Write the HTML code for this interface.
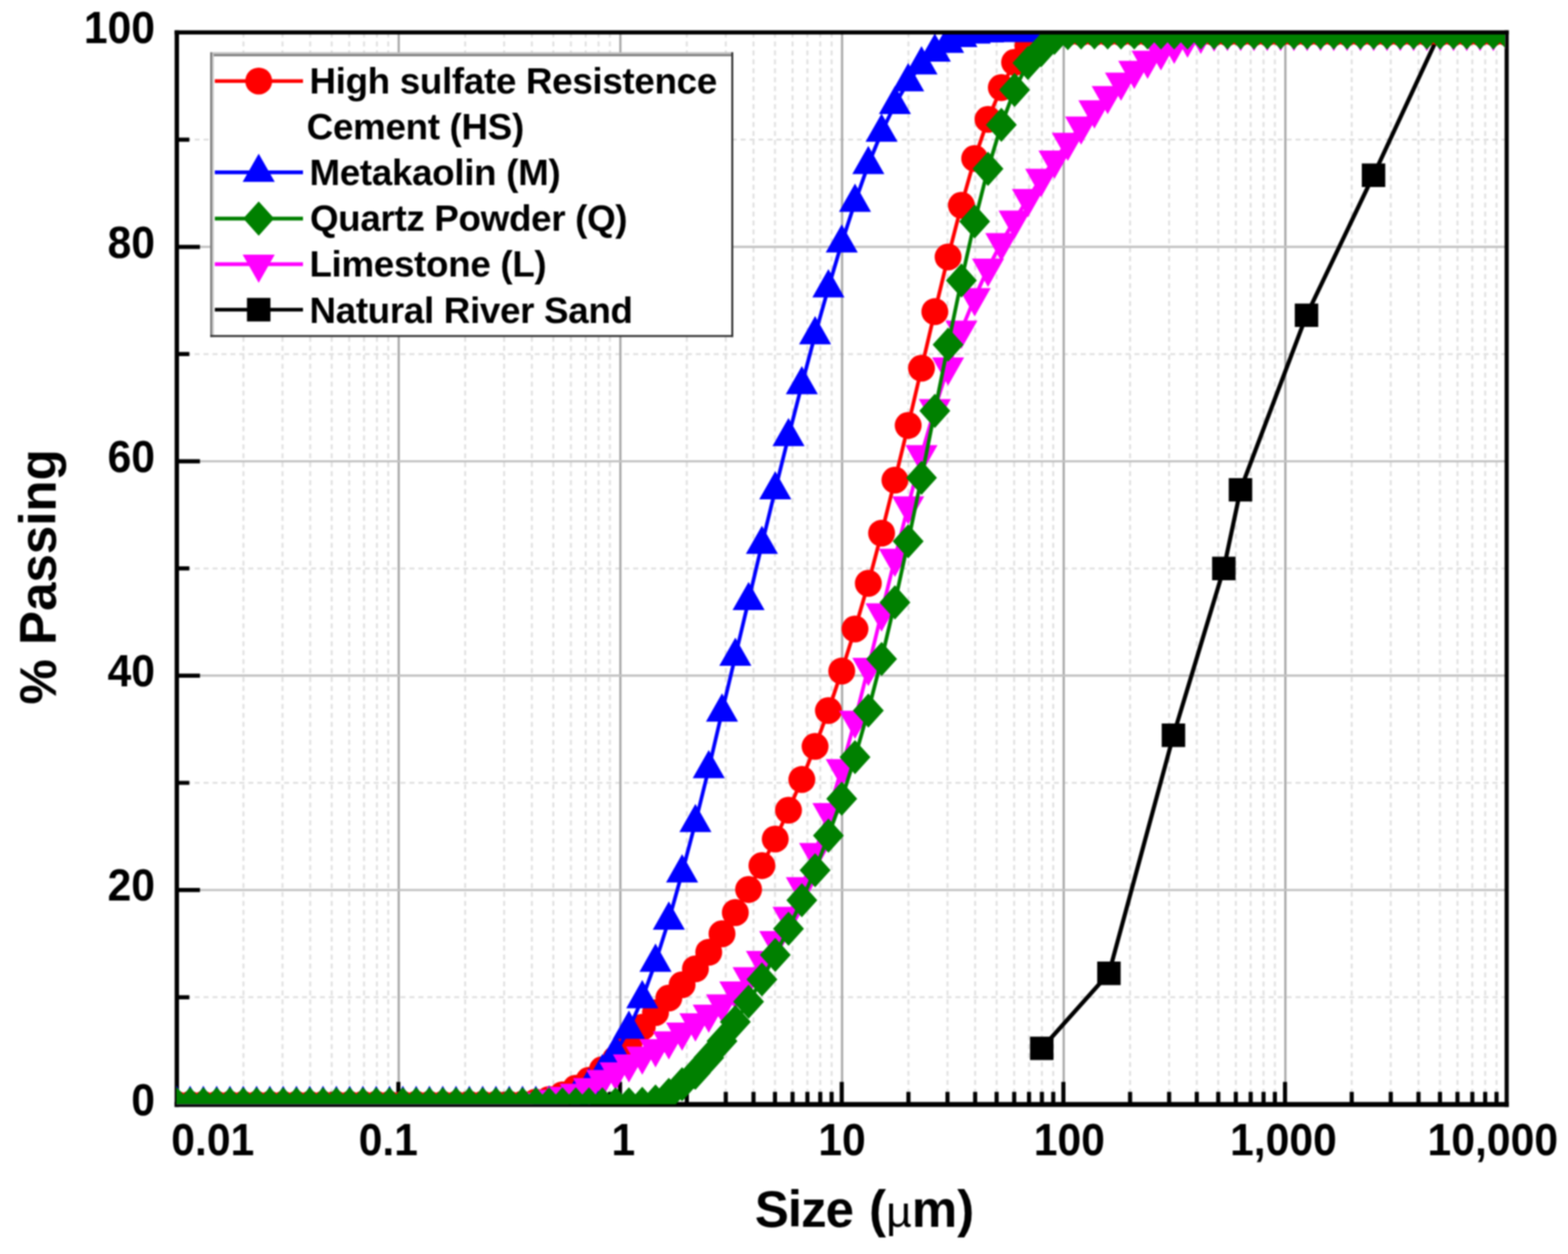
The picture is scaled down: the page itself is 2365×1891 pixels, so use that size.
<!DOCTYPE html>
<html lang="en">
<head>
<meta charset="utf-8">
<title>Particle size distribution</title>
<style>
html,body{margin:0;padding:0;background:#fff;}
body{width:2365px;height:1891px;overflow:hidden;}
svg{display:block;filter:blur(0.9px);}
</style>
</head>
<body>
<svg width="2365" height="1891" viewBox="0 0 2365 1891">
<defs><clipPath id="pc"><rect x="266" y="52" width="2004.5" height="1613.3"/></clipPath></defs>
<rect width="2365" height="1891" fill="#fff"/>
<path d="M367.2 49V1665.4M426.1 49V1665.4M467.9 49V1665.4M500.3 49V1665.4M526.7 49V1665.4M549.1 49V1665.4M568.5 49V1665.4M585.6 49V1665.4M701.6 49V1665.4M760.4 49V1665.4M802.2 49V1665.4M834.6 49V1665.4M861.1 49V1665.4M883.4 49V1665.4M902.8 49V1665.4M919.9 49V1665.4M1035.9 49V1665.4M1094.7 49V1665.4M1136.5 49V1665.4M1168.9 49V1665.4M1195.4 49V1665.4M1217.8 49V1665.4M1237.2 49V1665.4M1254.3 49V1665.4M1370.2 49V1665.4M1429.1 49V1665.4M1470.8 49V1665.4M1503.2 49V1665.4M1529.7 49V1665.4M1552.1 49V1665.4M1571.5 49V1665.4M1588.6 49V1665.4M1704.5 49V1665.4M1763.4 49V1665.4M1805.1 49V1665.4M1837.5 49V1665.4M1864 49V1665.4M1886.4 49V1665.4M1905.8 49V1665.4M1922.9 49V1665.4M2038.8 49V1665.4M2097.7 49V1665.4M2139.5 49V1665.4M2171.9 49V1665.4M2198.3 49V1665.4M2220.7 49V1665.4M2240.1 49V1665.4M2257.2 49V1665.4M266.6 1503.8H2272.5M266.6 1180.5H2272.5M266.6 857.2H2272.5M266.6 533.9H2272.5M266.6 210.6H2272.5" stroke="#e1e1e1" stroke-width="3" stroke-dasharray="7.5 6" fill="none"/>
<path d="M601.4 49V1665.4M935.7 49V1665.4M1270.1 49V1665.4M1604.4 49V1665.4M1938.7 49V1665.4" stroke="#a9a9a9" stroke-width="3.4" fill="none"/>
<path d="M266.6 1342.1H2272.5M266.6 1018.8H2272.5M266.6 695.6H2272.5M266.6 372.3H2272.5" stroke="#c2c2c2" stroke-width="3.4" fill="none"/>
<path d="M367.2 1665.4v-19M426.1 1665.4v-19M467.9 1665.4v-19M500.3 1665.4v-19M526.7 1665.4v-19M549.1 1665.4v-19M568.5 1665.4v-19M585.6 1665.4v-19M600.9 1665.4v-34M701.6 1665.4v-19M760.4 1665.4v-19M802.2 1665.4v-19M834.6 1665.4v-19M861.1 1665.4v-19M883.4 1665.4v-19M902.8 1665.4v-19M919.9 1665.4v-19M935.2 1665.4v-34M1035.9 1665.4v-19M1094.7 1665.4v-19M1136.5 1665.4v-19M1168.9 1665.4v-19M1195.4 1665.4v-19M1217.8 1665.4v-19M1237.2 1665.4v-19M1254.3 1665.4v-19M1269.6 1665.4v-34M1370.2 1665.4v-19M1429.1 1665.4v-19M1470.8 1665.4v-19M1503.2 1665.4v-19M1529.7 1665.4v-19M1552.1 1665.4v-19M1571.5 1665.4v-19M1588.6 1665.4v-19M1603.9 1665.4v-34M1704.5 1665.4v-19M1763.4 1665.4v-19M1805.1 1665.4v-19M1837.5 1665.4v-19M1864 1665.4v-19M1886.4 1665.4v-19M1905.8 1665.4v-19M1922.9 1665.4v-19M1938.2 1665.4v-34M2038.8 1665.4v-19M2097.7 1665.4v-19M2139.5 1665.4v-19M2171.9 1665.4v-19M2198.3 1665.4v-19M2220.7 1665.4v-19M2240.1 1665.4v-19M2257.2 1665.4v-19M266.6 1503.8h19M266.6 1342.1h35M266.6 1180.5h19M266.6 1018.8h35M266.6 857.2h19M266.6 695.6h35M266.6 533.9h19M266.6 372.3h35M266.6 210.6h19" stroke="#000" stroke-width="6.2" fill="none"/>
<path d="M263.4 48.9H2275.6" stroke="#000" stroke-width="6.2" fill="none"/><path d="M263.4 1665.5H2275.6" stroke="#000" stroke-width="7.6" fill="none"/><path d="M266.7 45.8V1669.3" stroke="#000" stroke-width="6.6" fill="none"/><path d="M2272.5 45.8V1669.3" stroke="#000" stroke-width="6.2" fill="none"/>
<g clip-path="url(#pc)">
<path d="M1571.3 1580.9 L1672.6 1467.7 L1769.9 1108.8 L1845.9 857.2 L1871 738.6 L1970.6 475.4 L2071.7 264.2 L2171.8 49" fill="none" stroke="#000000" stroke-width="6.3" stroke-linejoin="round"/>
<path d="M1553.6 1563.2h35.4v35.4h-35.4zM1654.9 1450h35.4v35.4h-35.4zM1752.2 1091.1h35.4v35.4h-35.4zM1828.2 839.5h35.4v35.4h-35.4zM1853.3 720.9h35.4v35.4h-35.4zM1952.9 457.7h35.4v35.4h-35.4zM2054 246.5h35.4v35.4h-35.4z" fill="#000000"/>
<path d="M266.6 1665.4 L286.7 1665.4 L306.7 1665.4 L326.8 1665.4 L346.8 1665.4 L366.9 1665.4 L387 1665.4 L407 1665.4 L427.1 1665.4 L447.1 1665.4 L467.2 1665.4 L487.2 1665.4 L507.3 1665.4 L527.4 1665.4 L547.4 1665.4 L567.5 1665.4 L587.5 1665.4 L607.6 1665.4 L627.7 1665.4 L647.7 1665.4 L667.8 1665.4 L687.8 1665.4 L707.9 1665.4 L728 1665.4 L748 1665.4 L768.1 1665.4 L788.1 1665 L808.2 1662 L828.3 1658 L848.3 1651 L868.4 1641 L888.4 1629 L908.5 1613 L928.5 1597 L948.6 1573 L968.7 1549 L988.7 1527 L1008.8 1505 L1028.8 1485 L1048.9 1461 L1069 1436 L1089 1408.1 L1109.1 1376.1 L1129.1 1341.3 L1149.2 1305.3 L1169.3 1265.2 L1189.3 1221.8 L1209.4 1175.4 L1229.4 1125.5 L1249.5 1071.5 L1269.6 1011.9 L1289.6 948.5 L1309.7 879.6 L1329.7 804 L1349.8 724 L1369.8 641.6 L1389.9 555.3 L1410 469.9 L1430 387.5 L1450.1 309.6 L1470.1 239 L1490.2 180 L1510.3 132.1 L1530.3 94 L1550.4 69.4 L1570.4 56 L1590.5 50.5 L1610.6 49 L1630.6 49 L1650.7 49 L1670.7 49 L1690.8 49 L1710.8 49 L1730.9 49 L1751 49 L1771 49 L1791.1 49 L1811.1 49 L1831.2 49 L1851.3 49 L1871.3 49 L1891.4 49 L1911.4 49 L1931.5 49 L1951.6 49 L1971.6 49 L1991.7 49 L2011.7 49 L2031.8 49 L2051.9 49 L2071.9 49 L2092 49 L2112 49 L2132.1 49 L2152.1 49 L2172.2 49 L2192.3 49 L2212.3 49 L2232.4 49 L2252.4 49 L2272.5 49" fill="none" stroke="#ff0000" stroke-width="5.6" stroke-linejoin="round"/>
<path d="M266.6 1665.4m-20.3 0a20.3 20.3 0 1 0 40.6 0a20.3 20.3 0 1 0-40.6 0zM286.7 1665.4m-20.3 0a20.3 20.3 0 1 0 40.6 0a20.3 20.3 0 1 0-40.6 0zM306.7 1665.4m-20.3 0a20.3 20.3 0 1 0 40.6 0a20.3 20.3 0 1 0-40.6 0zM326.8 1665.4m-20.3 0a20.3 20.3 0 1 0 40.6 0a20.3 20.3 0 1 0-40.6 0zM346.8 1665.4m-20.3 0a20.3 20.3 0 1 0 40.6 0a20.3 20.3 0 1 0-40.6 0zM366.9 1665.4m-20.3 0a20.3 20.3 0 1 0 40.6 0a20.3 20.3 0 1 0-40.6 0zM387 1665.4m-20.3 0a20.3 20.3 0 1 0 40.6 0a20.3 20.3 0 1 0-40.6 0zM407 1665.4m-20.3 0a20.3 20.3 0 1 0 40.6 0a20.3 20.3 0 1 0-40.6 0zM427.1 1665.4m-20.3 0a20.3 20.3 0 1 0 40.6 0a20.3 20.3 0 1 0-40.6 0zM447.1 1665.4m-20.3 0a20.3 20.3 0 1 0 40.6 0a20.3 20.3 0 1 0-40.6 0zM467.2 1665.4m-20.3 0a20.3 20.3 0 1 0 40.6 0a20.3 20.3 0 1 0-40.6 0zM487.2 1665.4m-20.3 0a20.3 20.3 0 1 0 40.6 0a20.3 20.3 0 1 0-40.6 0zM507.3 1665.4m-20.3 0a20.3 20.3 0 1 0 40.6 0a20.3 20.3 0 1 0-40.6 0zM527.4 1665.4m-20.3 0a20.3 20.3 0 1 0 40.6 0a20.3 20.3 0 1 0-40.6 0zM547.4 1665.4m-20.3 0a20.3 20.3 0 1 0 40.6 0a20.3 20.3 0 1 0-40.6 0zM567.5 1665.4m-20.3 0a20.3 20.3 0 1 0 40.6 0a20.3 20.3 0 1 0-40.6 0zM587.5 1665.4m-20.3 0a20.3 20.3 0 1 0 40.6 0a20.3 20.3 0 1 0-40.6 0zM607.6 1665.4m-20.3 0a20.3 20.3 0 1 0 40.6 0a20.3 20.3 0 1 0-40.6 0zM627.7 1665.4m-20.3 0a20.3 20.3 0 1 0 40.6 0a20.3 20.3 0 1 0-40.6 0zM647.7 1665.4m-20.3 0a20.3 20.3 0 1 0 40.6 0a20.3 20.3 0 1 0-40.6 0zM667.8 1665.4m-20.3 0a20.3 20.3 0 1 0 40.6 0a20.3 20.3 0 1 0-40.6 0zM687.8 1665.4m-20.3 0a20.3 20.3 0 1 0 40.6 0a20.3 20.3 0 1 0-40.6 0zM707.9 1665.4m-20.3 0a20.3 20.3 0 1 0 40.6 0a20.3 20.3 0 1 0-40.6 0zM728 1665.4m-20.3 0a20.3 20.3 0 1 0 40.6 0a20.3 20.3 0 1 0-40.6 0zM748 1665.4m-20.3 0a20.3 20.3 0 1 0 40.6 0a20.3 20.3 0 1 0-40.6 0zM768.1 1665.4m-20.3 0a20.3 20.3 0 1 0 40.6 0a20.3 20.3 0 1 0-40.6 0zM788.1 1665m-20.3 0a20.3 20.3 0 1 0 40.6 0a20.3 20.3 0 1 0-40.6 0zM808.2 1662m-20.3 0a20.3 20.3 0 1 0 40.6 0a20.3 20.3 0 1 0-40.6 0zM828.3 1658m-20.3 0a20.3 20.3 0 1 0 40.6 0a20.3 20.3 0 1 0-40.6 0zM848.3 1651m-20.3 0a20.3 20.3 0 1 0 40.6 0a20.3 20.3 0 1 0-40.6 0zM868.4 1641m-20.3 0a20.3 20.3 0 1 0 40.6 0a20.3 20.3 0 1 0-40.6 0zM888.4 1629m-20.3 0a20.3 20.3 0 1 0 40.6 0a20.3 20.3 0 1 0-40.6 0zM908.5 1613m-20.3 0a20.3 20.3 0 1 0 40.6 0a20.3 20.3 0 1 0-40.6 0zM928.5 1597m-20.3 0a20.3 20.3 0 1 0 40.6 0a20.3 20.3 0 1 0-40.6 0zM948.6 1573m-20.3 0a20.3 20.3 0 1 0 40.6 0a20.3 20.3 0 1 0-40.6 0zM968.7 1549m-20.3 0a20.3 20.3 0 1 0 40.6 0a20.3 20.3 0 1 0-40.6 0zM988.7 1527m-20.3 0a20.3 20.3 0 1 0 40.6 0a20.3 20.3 0 1 0-40.6 0zM1008.8 1505m-20.3 0a20.3 20.3 0 1 0 40.6 0a20.3 20.3 0 1 0-40.6 0zM1028.8 1485m-20.3 0a20.3 20.3 0 1 0 40.6 0a20.3 20.3 0 1 0-40.6 0zM1048.9 1461m-20.3 0a20.3 20.3 0 1 0 40.6 0a20.3 20.3 0 1 0-40.6 0zM1069 1436m-20.3 0a20.3 20.3 0 1 0 40.6 0a20.3 20.3 0 1 0-40.6 0zM1089 1408.1m-20.3 0a20.3 20.3 0 1 0 40.6 0a20.3 20.3 0 1 0-40.6 0zM1109.1 1376.1m-20.3 0a20.3 20.3 0 1 0 40.6 0a20.3 20.3 0 1 0-40.6 0zM1129.1 1341.3m-20.3 0a20.3 20.3 0 1 0 40.6 0a20.3 20.3 0 1 0-40.6 0zM1149.2 1305.3m-20.3 0a20.3 20.3 0 1 0 40.6 0a20.3 20.3 0 1 0-40.6 0zM1169.3 1265.2m-20.3 0a20.3 20.3 0 1 0 40.6 0a20.3 20.3 0 1 0-40.6 0zM1189.3 1221.8m-20.3 0a20.3 20.3 0 1 0 40.6 0a20.3 20.3 0 1 0-40.6 0zM1209.4 1175.4m-20.3 0a20.3 20.3 0 1 0 40.6 0a20.3 20.3 0 1 0-40.6 0zM1229.4 1125.5m-20.3 0a20.3 20.3 0 1 0 40.6 0a20.3 20.3 0 1 0-40.6 0zM1249.5 1071.5m-20.3 0a20.3 20.3 0 1 0 40.6 0a20.3 20.3 0 1 0-40.6 0zM1269.6 1011.9m-20.3 0a20.3 20.3 0 1 0 40.6 0a20.3 20.3 0 1 0-40.6 0zM1289.6 948.5m-20.3 0a20.3 20.3 0 1 0 40.6 0a20.3 20.3 0 1 0-40.6 0zM1309.7 879.6m-20.3 0a20.3 20.3 0 1 0 40.6 0a20.3 20.3 0 1 0-40.6 0zM1329.7 804m-20.3 0a20.3 20.3 0 1 0 40.6 0a20.3 20.3 0 1 0-40.6 0zM1349.8 724m-20.3 0a20.3 20.3 0 1 0 40.6 0a20.3 20.3 0 1 0-40.6 0zM1369.8 641.6m-20.3 0a20.3 20.3 0 1 0 40.6 0a20.3 20.3 0 1 0-40.6 0zM1389.9 555.3m-20.3 0a20.3 20.3 0 1 0 40.6 0a20.3 20.3 0 1 0-40.6 0zM1410 469.9m-20.3 0a20.3 20.3 0 1 0 40.6 0a20.3 20.3 0 1 0-40.6 0zM1430 387.5m-20.3 0a20.3 20.3 0 1 0 40.6 0a20.3 20.3 0 1 0-40.6 0zM1450.1 309.6m-20.3 0a20.3 20.3 0 1 0 40.6 0a20.3 20.3 0 1 0-40.6 0zM1470.1 239m-20.3 0a20.3 20.3 0 1 0 40.6 0a20.3 20.3 0 1 0-40.6 0zM1490.2 180m-20.3 0a20.3 20.3 0 1 0 40.6 0a20.3 20.3 0 1 0-40.6 0zM1510.3 132.1m-20.3 0a20.3 20.3 0 1 0 40.6 0a20.3 20.3 0 1 0-40.6 0zM1530.3 94m-20.3 0a20.3 20.3 0 1 0 40.6 0a20.3 20.3 0 1 0-40.6 0zM1550.4 69.4m-20.3 0a20.3 20.3 0 1 0 40.6 0a20.3 20.3 0 1 0-40.6 0zM1570.4 56m-20.3 0a20.3 20.3 0 1 0 40.6 0a20.3 20.3 0 1 0-40.6 0zM1590.5 50.5m-20.3 0a20.3 20.3 0 1 0 40.6 0a20.3 20.3 0 1 0-40.6 0zM1610.6 49m-20.3 0a20.3 20.3 0 1 0 40.6 0a20.3 20.3 0 1 0-40.6 0zM1630.6 49m-20.3 0a20.3 20.3 0 1 0 40.6 0a20.3 20.3 0 1 0-40.6 0zM1650.7 49m-20.3 0a20.3 20.3 0 1 0 40.6 0a20.3 20.3 0 1 0-40.6 0zM1670.7 49m-20.3 0a20.3 20.3 0 1 0 40.6 0a20.3 20.3 0 1 0-40.6 0zM1690.8 49m-20.3 0a20.3 20.3 0 1 0 40.6 0a20.3 20.3 0 1 0-40.6 0zM1710.8 49m-20.3 0a20.3 20.3 0 1 0 40.6 0a20.3 20.3 0 1 0-40.6 0zM1730.9 49m-20.3 0a20.3 20.3 0 1 0 40.6 0a20.3 20.3 0 1 0-40.6 0zM1751 49m-20.3 0a20.3 20.3 0 1 0 40.6 0a20.3 20.3 0 1 0-40.6 0zM1771 49m-20.3 0a20.3 20.3 0 1 0 40.6 0a20.3 20.3 0 1 0-40.6 0zM1791.1 49m-20.3 0a20.3 20.3 0 1 0 40.6 0a20.3 20.3 0 1 0-40.6 0zM1811.1 49m-20.3 0a20.3 20.3 0 1 0 40.6 0a20.3 20.3 0 1 0-40.6 0zM1831.2 49m-20.3 0a20.3 20.3 0 1 0 40.6 0a20.3 20.3 0 1 0-40.6 0zM1851.3 49m-20.3 0a20.3 20.3 0 1 0 40.6 0a20.3 20.3 0 1 0-40.6 0zM1871.3 49m-20.3 0a20.3 20.3 0 1 0 40.6 0a20.3 20.3 0 1 0-40.6 0zM1891.4 49m-20.3 0a20.3 20.3 0 1 0 40.6 0a20.3 20.3 0 1 0-40.6 0zM1911.4 49m-20.3 0a20.3 20.3 0 1 0 40.6 0a20.3 20.3 0 1 0-40.6 0zM1931.5 49m-20.3 0a20.3 20.3 0 1 0 40.6 0a20.3 20.3 0 1 0-40.6 0zM1951.6 49m-20.3 0a20.3 20.3 0 1 0 40.6 0a20.3 20.3 0 1 0-40.6 0zM1971.6 49m-20.3 0a20.3 20.3 0 1 0 40.6 0a20.3 20.3 0 1 0-40.6 0zM1991.7 49m-20.3 0a20.3 20.3 0 1 0 40.6 0a20.3 20.3 0 1 0-40.6 0zM2011.7 49m-20.3 0a20.3 20.3 0 1 0 40.6 0a20.3 20.3 0 1 0-40.6 0zM2031.8 49m-20.3 0a20.3 20.3 0 1 0 40.6 0a20.3 20.3 0 1 0-40.6 0zM2051.9 49m-20.3 0a20.3 20.3 0 1 0 40.6 0a20.3 20.3 0 1 0-40.6 0zM2071.9 49m-20.3 0a20.3 20.3 0 1 0 40.6 0a20.3 20.3 0 1 0-40.6 0zM2092 49m-20.3 0a20.3 20.3 0 1 0 40.6 0a20.3 20.3 0 1 0-40.6 0zM2112 49m-20.3 0a20.3 20.3 0 1 0 40.6 0a20.3 20.3 0 1 0-40.6 0zM2132.1 49m-20.3 0a20.3 20.3 0 1 0 40.6 0a20.3 20.3 0 1 0-40.6 0zM2152.1 49m-20.3 0a20.3 20.3 0 1 0 40.6 0a20.3 20.3 0 1 0-40.6 0zM2172.2 49m-20.3 0a20.3 20.3 0 1 0 40.6 0a20.3 20.3 0 1 0-40.6 0zM2192.3 49m-20.3 0a20.3 20.3 0 1 0 40.6 0a20.3 20.3 0 1 0-40.6 0zM2212.3 49m-20.3 0a20.3 20.3 0 1 0 40.6 0a20.3 20.3 0 1 0-40.6 0zM2232.4 49m-20.3 0a20.3 20.3 0 1 0 40.6 0a20.3 20.3 0 1 0-40.6 0zM2252.4 49m-20.3 0a20.3 20.3 0 1 0 40.6 0a20.3 20.3 0 1 0-40.6 0zM2272.5 49m-20.3 0a20.3 20.3 0 1 0 40.6 0a20.3 20.3 0 1 0-40.6 0z" fill="#ff0000"/>
<path d="M266.6 1665.4 L286.7 1665.4 L306.7 1665.4 L326.8 1665.4 L346.8 1665.4 L366.9 1665.4 L387 1665.4 L407 1665.4 L427.1 1665.4 L447.1 1665.4 L467.2 1665.4 L487.2 1665.4 L507.3 1665.4 L527.4 1665.4 L547.4 1665.4 L567.5 1665.4 L587.5 1665.4 L607.6 1665.4 L627.7 1665.4 L647.7 1665.4 L667.8 1665.4 L687.8 1665.4 L707.9 1665.4 L728 1665.4 L748 1665.4 L768.1 1665.4 L788.1 1665.4 L808.2 1665.4 L828.3 1665 L848.3 1662 L868.4 1653 L888.4 1638.5 L908.5 1617.5 L928.5 1588 L948.6 1552 L968.7 1506 L988.7 1451 L1008.8 1387.5 L1028.8 1316.3 L1048.9 1240.4 L1069 1159.2 L1089 1073.8 L1109.1 989.6 L1129.1 905.6 L1149.2 820.9 L1169.3 738.6 L1189.3 658.4 L1209.4 580.2 L1229.4 504.8 L1249.5 434 L1269.6 366.4 L1289.6 305 L1309.7 248.1 L1329.7 199.4 L1349.8 157.6 L1369.8 123.3 L1389.9 97.8 L1410 78.7 L1430 65.3 L1450.1 56.7 L1470.1 51.4 L1490.2 49.5 L1510.3 49 L1530.3 49 L1550.4 49 L1570.4 49 L1590.5 49 L1610.6 49 L1630.6 49 L1650.7 49 L1670.7 49 L1690.8 49 L1710.8 49 L1730.9 49 L1751 49 L1771 49 L1791.1 49 L1811.1 49 L1831.2 49 L1851.3 49 L1871.3 49 L1891.4 49 L1911.4 49 L1931.5 49 L1951.6 49 L1971.6 49 L1991.7 49 L2011.7 49 L2031.8 49 L2051.9 49 L2071.9 49 L2092 49 L2112 49 L2132.1 49 L2152.1 49 L2172.2 49 L2192.3 49 L2212.3 49 L2232.4 49 L2252.4 49 L2272.5 49" fill="none" stroke="#0000ff" stroke-width="5.6" stroke-linejoin="round"/>
<path d="M266.6 1637.2l24.2 42.6h-48.4zM286.7 1637.2l24.2 42.6h-48.4zM306.7 1637.2l24.2 42.6h-48.4zM326.8 1637.2l24.2 42.6h-48.4zM346.8 1637.2l24.2 42.6h-48.4zM366.9 1637.2l24.2 42.6h-48.4zM387 1637.2l24.2 42.6h-48.4zM407 1637.2l24.2 42.6h-48.4zM427.1 1637.2l24.2 42.6h-48.4zM447.1 1637.2l24.2 42.6h-48.4zM467.2 1637.2l24.2 42.6h-48.4zM487.2 1637.2l24.2 42.6h-48.4zM507.3 1637.2l24.2 42.6h-48.4zM527.4 1637.2l24.2 42.6h-48.4zM547.4 1637.2l24.2 42.6h-48.4zM567.5 1637.2l24.2 42.6h-48.4zM587.5 1637.2l24.2 42.6h-48.4zM607.6 1637.2l24.2 42.6h-48.4zM627.7 1637.2l24.2 42.6h-48.4zM647.7 1637.2l24.2 42.6h-48.4zM667.8 1637.2l24.2 42.6h-48.4zM687.8 1637.2l24.2 42.6h-48.4zM707.9 1637.2l24.2 42.6h-48.4zM728 1637.2l24.2 42.6h-48.4zM748 1637.2l24.2 42.6h-48.4zM768.1 1637.2l24.2 42.6h-48.4zM788.1 1637.2l24.2 42.6h-48.4zM808.2 1637.2l24.2 42.6h-48.4zM828.3 1636.8l24.2 42.6h-48.4zM848.3 1633.8l24.2 42.6h-48.4zM868.4 1624.8l24.2 42.6h-48.4zM888.4 1610.3l24.2 42.6h-48.4zM908.5 1589.3l24.2 42.6h-48.4zM928.5 1559.8l24.2 42.6h-48.4zM948.6 1523.8l24.2 42.6h-48.4zM968.7 1477.8l24.2 42.6h-48.4zM988.7 1422.8l24.2 42.6h-48.4zM1008.8 1359.3l24.2 42.6h-48.4zM1028.8 1288.1l24.2 42.6h-48.4zM1048.9 1212.2l24.2 42.6h-48.4zM1069 1131l24.2 42.6h-48.4zM1089 1045.6l24.2 42.6h-48.4zM1109.1 961.4l24.2 42.6h-48.4zM1129.1 877.4l24.2 42.6h-48.4zM1149.2 792.7l24.2 42.6h-48.4zM1169.3 710.4l24.2 42.6h-48.4zM1189.3 630.2l24.2 42.6h-48.4zM1209.4 552l24.2 42.6h-48.4zM1229.4 476.6l24.2 42.6h-48.4zM1249.5 405.8l24.2 42.6h-48.4zM1269.6 338.2l24.2 42.6h-48.4zM1289.6 276.8l24.2 42.6h-48.4zM1309.7 219.9l24.2 42.6h-48.4zM1329.7 171.2l24.2 42.6h-48.4zM1349.8 129.4l24.2 42.6h-48.4zM1369.8 95.1l24.2 42.6h-48.4zM1389.9 69.6l24.2 42.6h-48.4zM1410 50.5l24.2 42.6h-48.4zM1430 37.1l24.2 42.6h-48.4zM1450.1 28.5l24.2 42.6h-48.4zM1470.1 23.2l24.2 42.6h-48.4zM1490.2 21.3l24.2 42.6h-48.4zM1510.3 20.8l24.2 42.6h-48.4zM1530.3 20.8l24.2 42.6h-48.4zM1550.4 20.8l24.2 42.6h-48.4zM1570.4 20.8l24.2 42.6h-48.4zM1590.5 20.8l24.2 42.6h-48.4zM1610.6 20.8l24.2 42.6h-48.4zM1630.6 20.8l24.2 42.6h-48.4zM1650.7 20.8l24.2 42.6h-48.4zM1670.7 20.8l24.2 42.6h-48.4zM1690.8 20.8l24.2 42.6h-48.4zM1710.8 20.8l24.2 42.6h-48.4zM1730.9 20.8l24.2 42.6h-48.4zM1751 20.8l24.2 42.6h-48.4zM1771 20.8l24.2 42.6h-48.4zM1791.1 20.8l24.2 42.6h-48.4zM1811.1 20.8l24.2 42.6h-48.4zM1831.2 20.8l24.2 42.6h-48.4zM1851.3 20.8l24.2 42.6h-48.4zM1871.3 20.8l24.2 42.6h-48.4zM1891.4 20.8l24.2 42.6h-48.4zM1911.4 20.8l24.2 42.6h-48.4zM1931.5 20.8l24.2 42.6h-48.4zM1951.6 20.8l24.2 42.6h-48.4zM1971.6 20.8l24.2 42.6h-48.4zM1991.7 20.8l24.2 42.6h-48.4zM2011.7 20.8l24.2 42.6h-48.4zM2031.8 20.8l24.2 42.6h-48.4zM2051.9 20.8l24.2 42.6h-48.4zM2071.9 20.8l24.2 42.6h-48.4zM2092 20.8l24.2 42.6h-48.4zM2112 20.8l24.2 42.6h-48.4zM2132.1 20.8l24.2 42.6h-48.4zM2152.1 20.8l24.2 42.6h-48.4zM2172.2 20.8l24.2 42.6h-48.4zM2192.3 20.8l24.2 42.6h-48.4zM2212.3 20.8l24.2 42.6h-48.4zM2232.4 20.8l24.2 42.6h-48.4zM2252.4 20.8l24.2 42.6h-48.4zM2272.5 20.8l24.2 42.6h-48.4z" fill="#0000ff"/>
<path d="M266.6 1665.4 L286.7 1665.4 L306.7 1665.4 L326.8 1665.4 L346.8 1665.4 L366.9 1665.4 L387 1665.4 L407 1665.4 L427.1 1665.4 L447.1 1665.4 L467.2 1665.4 L487.2 1665.4 L507.3 1665.4 L527.4 1665.4 L547.4 1665.4 L567.5 1665.4 L587.5 1665.4 L607.6 1665.4 L627.7 1665.4 L647.7 1665.4 L667.8 1665.4 L687.8 1665.4 L707.9 1665.4 L728 1665.4 L748 1665.4 L768.1 1665.4 L788.1 1665 L808.2 1662 L828.3 1658 L848.3 1653.5 L868.4 1648.6 L888.4 1640.1 L908.5 1627.9 L928.5 1616.3 L948.6 1604.4 L968.7 1592.6 L988.7 1581.5 L1008.8 1569.6 L1028.8 1556.4 L1048.9 1542.5 L1069 1529.3 L1089 1513.9 L1109.1 1494.5 L1129.1 1473 L1149.2 1448.3 L1169.3 1418.3 L1189.3 1381.9 L1209.4 1337.1 L1229.4 1285.6 L1249.5 1225.3 L1269.6 1159.1 L1289.6 1086.1 L1309.7 1006.5 L1329.7 924.2 L1349.8 841.8 L1369.8 762.9 L1389.9 685.7 L1410 616.1 L1430 553.4 L1450.1 497.8 L1470.1 449 L1490.2 404.5 L1510.3 366 L1530.3 332 L1550.4 299.5 L1570.4 269 L1590.5 241.5 L1610.6 214.6 L1630.6 190.1 L1650.7 165.7 L1670.7 144.1 L1690.8 123.9 L1710.8 106.1 L1730.9 90.8 L1751 78 L1771 68.3 L1791.1 59 L1811.1 53.2 L1831.2 49.8 L1851.3 49 L1871.3 49 L1891.4 49 L1911.4 49 L1931.5 49 L1951.6 49 L1971.6 49 L1991.7 49 L2011.7 49 L2031.8 49 L2051.9 49 L2071.9 49 L2092 49 L2112 49 L2132.1 49 L2152.1 49 L2172.2 49 L2192.3 49 L2212.3 49 L2232.4 49 L2252.4 49 L2272.5 49" fill="none" stroke="#ff00ff" stroke-width="5.6" stroke-linejoin="round"/>
<path d="M266.6 1693.6l-24.2-42.6h48.4zM286.7 1693.6l-24.2-42.6h48.4zM306.7 1693.6l-24.2-42.6h48.4zM326.8 1693.6l-24.2-42.6h48.4zM346.8 1693.6l-24.2-42.6h48.4zM366.9 1693.6l-24.2-42.6h48.4zM387 1693.6l-24.2-42.6h48.4zM407 1693.6l-24.2-42.6h48.4zM427.1 1693.6l-24.2-42.6h48.4zM447.1 1693.6l-24.2-42.6h48.4zM467.2 1693.6l-24.2-42.6h48.4zM487.2 1693.6l-24.2-42.6h48.4zM507.3 1693.6l-24.2-42.6h48.4zM527.4 1693.6l-24.2-42.6h48.4zM547.4 1693.6l-24.2-42.6h48.4zM567.5 1693.6l-24.2-42.6h48.4zM587.5 1693.6l-24.2-42.6h48.4zM607.6 1693.6l-24.2-42.6h48.4zM627.7 1693.6l-24.2-42.6h48.4zM647.7 1693.6l-24.2-42.6h48.4zM667.8 1693.6l-24.2-42.6h48.4zM687.8 1693.6l-24.2-42.6h48.4zM707.9 1693.6l-24.2-42.6h48.4zM728 1693.6l-24.2-42.6h48.4zM748 1693.6l-24.2-42.6h48.4zM768.1 1693.6l-24.2-42.6h48.4zM788.1 1693.2l-24.2-42.6h48.4zM808.2 1690.2l-24.2-42.6h48.4zM828.3 1686.2l-24.2-42.6h48.4zM848.3 1681.7l-24.2-42.6h48.4zM868.4 1676.8l-24.2-42.6h48.4zM888.4 1668.3l-24.2-42.6h48.4zM908.5 1656.1l-24.2-42.6h48.4zM928.5 1644.5l-24.2-42.6h48.4zM948.6 1632.6l-24.2-42.6h48.4zM968.7 1620.8l-24.2-42.6h48.4zM988.7 1609.7l-24.2-42.6h48.4zM1008.8 1597.8l-24.2-42.6h48.4zM1028.8 1584.6l-24.2-42.6h48.4zM1048.9 1570.7l-24.2-42.6h48.4zM1069 1557.5l-24.2-42.6h48.4zM1089 1542.1l-24.2-42.6h48.4zM1109.1 1522.7l-24.2-42.6h48.4zM1129.1 1501.2l-24.2-42.6h48.4zM1149.2 1476.5l-24.2-42.6h48.4zM1169.3 1446.5l-24.2-42.6h48.4zM1189.3 1410.1l-24.2-42.6h48.4zM1209.4 1365.3l-24.2-42.6h48.4zM1229.4 1313.8l-24.2-42.6h48.4zM1249.5 1253.5l-24.2-42.6h48.4zM1269.6 1187.3l-24.2-42.6h48.4zM1289.6 1114.3l-24.2-42.6h48.4zM1309.7 1034.7l-24.2-42.6h48.4zM1329.7 952.4l-24.2-42.6h48.4zM1349.8 870l-24.2-42.6h48.4zM1369.8 791.1l-24.2-42.6h48.4zM1389.9 713.9l-24.2-42.6h48.4zM1410 644.3l-24.2-42.6h48.4zM1430 581.6l-24.2-42.6h48.4zM1450.1 526l-24.2-42.6h48.4zM1470.1 477.2l-24.2-42.6h48.4zM1490.2 432.7l-24.2-42.6h48.4zM1510.3 394.2l-24.2-42.6h48.4zM1530.3 360.2l-24.2-42.6h48.4zM1550.4 327.7l-24.2-42.6h48.4zM1570.4 297.2l-24.2-42.6h48.4zM1590.5 269.7l-24.2-42.6h48.4zM1610.6 242.8l-24.2-42.6h48.4zM1630.6 218.3l-24.2-42.6h48.4zM1650.7 193.9l-24.2-42.6h48.4zM1670.7 172.3l-24.2-42.6h48.4zM1690.8 152.1l-24.2-42.6h48.4zM1710.8 134.3l-24.2-42.6h48.4zM1730.9 119l-24.2-42.6h48.4zM1751 106.2l-24.2-42.6h48.4zM1771 96.5l-24.2-42.6h48.4zM1791.1 87.2l-24.2-42.6h48.4zM1811.1 81.4l-24.2-42.6h48.4zM1831.2 78l-24.2-42.6h48.4zM1851.3 77.2l-24.2-42.6h48.4zM1871.3 77.2l-24.2-42.6h48.4zM1891.4 77.2l-24.2-42.6h48.4zM1911.4 77.2l-24.2-42.6h48.4zM1931.5 77.2l-24.2-42.6h48.4zM1951.6 77.2l-24.2-42.6h48.4zM1971.6 77.2l-24.2-42.6h48.4zM1991.7 77.2l-24.2-42.6h48.4zM2011.7 77.2l-24.2-42.6h48.4zM2031.8 77.2l-24.2-42.6h48.4zM2051.9 77.2l-24.2-42.6h48.4zM2071.9 77.2l-24.2-42.6h48.4zM2092 77.2l-24.2-42.6h48.4zM2112 77.2l-24.2-42.6h48.4zM2132.1 77.2l-24.2-42.6h48.4zM2152.1 77.2l-24.2-42.6h48.4zM2172.2 77.2l-24.2-42.6h48.4zM2192.3 77.2l-24.2-42.6h48.4zM2212.3 77.2l-24.2-42.6h48.4zM2232.4 77.2l-24.2-42.6h48.4zM2252.4 77.2l-24.2-42.6h48.4zM2272.5 77.2l-24.2-42.6h48.4z" fill="#ff00ff"/>
<path d="M266.6 1665.4 L286.7 1665.4 L306.7 1665.4 L326.8 1665.4 L346.8 1665.4 L366.9 1665.4 L387 1665.4 L407 1665.4 L427.1 1665.4 L447.1 1665.4 L467.2 1665.4 L487.2 1665.4 L507.3 1665.4 L527.4 1665.4 L547.4 1665.4 L567.5 1665.4 L587.5 1665.4 L607.6 1665.4 L627.7 1665.4 L647.7 1665.4 L667.8 1665.4 L687.8 1665.4 L707.9 1665.4 L728 1665.4 L748 1665.4 L768.1 1665.4 L788.1 1665.4 L808.2 1665.4 L828.3 1665.4 L848.3 1665.4 L868.4 1665.4 L888.4 1665.4 L908.5 1665.4 L928.5 1665.4 L948.6 1665.3 L968.7 1664.5 L988.7 1661 L1008.8 1651 L1028.8 1635 L1048.9 1617.7 L1069 1595 L1089 1570 L1109.1 1541 L1129.1 1510.5 L1149.2 1477 L1169.3 1440 L1189.3 1400.5 L1209.4 1357.5 L1229.4 1312.3 L1249.5 1260.1 L1269.6 1204.4 L1289.6 1141.8 L1309.7 1071.5 L1329.7 993.8 L1349.8 908.4 L1369.8 816.3 L1389.9 720.5 L1410 619.6 L1430 519.8 L1450.1 423 L1470.1 334 L1490.2 254.6 L1510.3 188.2 L1530.3 135.6 L1550.4 95 L1570.4 75.6 L1590.5 57 L1610.6 50 L1630.6 49 L1650.7 49 L1670.7 49 L1690.8 49 L1710.8 49 L1730.9 49 L1751 49 L1771 49 L1791.1 49 L1811.1 49 L1831.2 49 L1851.3 49 L1871.3 49 L1891.4 49 L1911.4 49 L1931.5 49 L1951.6 49 L1971.6 49 L1991.7 49 L2011.7 49 L2031.8 49 L2051.9 49 L2071.9 49 L2092 49 L2112 49 L2132.1 49 L2152.1 49 L2172.2 49 L2192.3 49 L2212.3 49 L2232.4 49 L2252.4 49 L2272.5 49" fill="none" stroke="#008000" stroke-width="5.6" stroke-linejoin="round"/>
<path d="M266.6 1639.6l23.3 25.8l-23.3 25.8l-23.3-25.8zM286.7 1639.6l23.3 25.8l-23.3 25.8l-23.3-25.8zM306.7 1639.6l23.3 25.8l-23.3 25.8l-23.3-25.8zM326.8 1639.6l23.3 25.8l-23.3 25.8l-23.3-25.8zM346.8 1639.6l23.3 25.8l-23.3 25.8l-23.3-25.8zM366.9 1639.6l23.3 25.8l-23.3 25.8l-23.3-25.8zM387 1639.6l23.3 25.8l-23.3 25.8l-23.3-25.8zM407 1639.6l23.3 25.8l-23.3 25.8l-23.3-25.8zM427.1 1639.6l23.3 25.8l-23.3 25.8l-23.3-25.8zM447.1 1639.6l23.3 25.8l-23.3 25.8l-23.3-25.8zM467.2 1639.6l23.3 25.8l-23.3 25.8l-23.3-25.8zM487.2 1639.6l23.3 25.8l-23.3 25.8l-23.3-25.8zM507.3 1639.6l23.3 25.8l-23.3 25.8l-23.3-25.8zM527.4 1639.6l23.3 25.8l-23.3 25.8l-23.3-25.8zM547.4 1639.6l23.3 25.8l-23.3 25.8l-23.3-25.8zM567.5 1639.6l23.3 25.8l-23.3 25.8l-23.3-25.8zM587.5 1639.6l23.3 25.8l-23.3 25.8l-23.3-25.8zM607.6 1639.6l23.3 25.8l-23.3 25.8l-23.3-25.8zM627.7 1639.6l23.3 25.8l-23.3 25.8l-23.3-25.8zM647.7 1639.6l23.3 25.8l-23.3 25.8l-23.3-25.8zM667.8 1639.6l23.3 25.8l-23.3 25.8l-23.3-25.8zM687.8 1639.6l23.3 25.8l-23.3 25.8l-23.3-25.8zM707.9 1639.6l23.3 25.8l-23.3 25.8l-23.3-25.8zM728 1639.6l23.3 25.8l-23.3 25.8l-23.3-25.8zM748 1639.6l23.3 25.8l-23.3 25.8l-23.3-25.8zM768.1 1639.6l23.3 25.8l-23.3 25.8l-23.3-25.8zM788.1 1639.6l23.3 25.8l-23.3 25.8l-23.3-25.8zM808.2 1639.6l23.3 25.8l-23.3 25.8l-23.3-25.8zM828.3 1639.6l23.3 25.8l-23.3 25.8l-23.3-25.8zM848.3 1639.6l23.3 25.8l-23.3 25.8l-23.3-25.8zM868.4 1639.6l23.3 25.8l-23.3 25.8l-23.3-25.8zM888.4 1639.6l23.3 25.8l-23.3 25.8l-23.3-25.8zM908.5 1639.6l23.3 25.8l-23.3 25.8l-23.3-25.8zM928.5 1639.6l23.3 25.8l-23.3 25.8l-23.3-25.8zM948.6 1639.5l23.3 25.8l-23.3 25.8l-23.3-25.8zM968.7 1638.7l23.3 25.8l-23.3 25.8l-23.3-25.8zM988.7 1635.2l23.3 25.8l-23.3 25.8l-23.3-25.8zM1008.8 1625.2l23.3 25.8l-23.3 25.8l-23.3-25.8zM1028.8 1609.2l23.3 25.8l-23.3 25.8l-23.3-25.8zM1048.9 1591.9l23.3 25.8l-23.3 25.8l-23.3-25.8zM1069 1569.2l23.3 25.8l-23.3 25.8l-23.3-25.8zM1089 1544.2l23.3 25.8l-23.3 25.8l-23.3-25.8zM1109.1 1515.2l23.3 25.8l-23.3 25.8l-23.3-25.8zM1129.1 1484.7l23.3 25.8l-23.3 25.8l-23.3-25.8zM1149.2 1451.2l23.3 25.8l-23.3 25.8l-23.3-25.8zM1169.3 1414.2l23.3 25.8l-23.3 25.8l-23.3-25.8zM1189.3 1374.7l23.3 25.8l-23.3 25.8l-23.3-25.8zM1209.4 1331.7l23.3 25.8l-23.3 25.8l-23.3-25.8zM1229.4 1286.5l23.3 25.8l-23.3 25.8l-23.3-25.8zM1249.5 1234.3l23.3 25.8l-23.3 25.8l-23.3-25.8zM1269.6 1178.6l23.3 25.8l-23.3 25.8l-23.3-25.8zM1289.6 1116l23.3 25.8l-23.3 25.8l-23.3-25.8zM1309.7 1045.7l23.3 25.8l-23.3 25.8l-23.3-25.8zM1329.7 968l23.3 25.8l-23.3 25.8l-23.3-25.8zM1349.8 882.6l23.3 25.8l-23.3 25.8l-23.3-25.8zM1369.8 790.5l23.3 25.8l-23.3 25.8l-23.3-25.8zM1389.9 694.7l23.3 25.8l-23.3 25.8l-23.3-25.8zM1410 593.8l23.3 25.8l-23.3 25.8l-23.3-25.8zM1430 494l23.3 25.8l-23.3 25.8l-23.3-25.8zM1450.1 397.2l23.3 25.8l-23.3 25.8l-23.3-25.8zM1470.1 308.2l23.3 25.8l-23.3 25.8l-23.3-25.8zM1490.2 228.8l23.3 25.8l-23.3 25.8l-23.3-25.8zM1510.3 162.4l23.3 25.8l-23.3 25.8l-23.3-25.8zM1530.3 109.8l23.3 25.8l-23.3 25.8l-23.3-25.8zM1550.4 69.2l23.3 25.8l-23.3 25.8l-23.3-25.8zM1570.4 49.8l23.3 25.8l-23.3 25.8l-23.3-25.8zM1590.5 31.2l23.3 25.8l-23.3 25.8l-23.3-25.8zM1610.6 24.2l23.3 25.8l-23.3 25.8l-23.3-25.8zM1630.6 23.2l23.3 25.8l-23.3 25.8l-23.3-25.8zM1650.7 23.2l23.3 25.8l-23.3 25.8l-23.3-25.8zM1670.7 23.2l23.3 25.8l-23.3 25.8l-23.3-25.8zM1690.8 23.2l23.3 25.8l-23.3 25.8l-23.3-25.8zM1710.8 23.2l23.3 25.8l-23.3 25.8l-23.3-25.8zM1730.9 23.2l23.3 25.8l-23.3 25.8l-23.3-25.8zM1751 23.2l23.3 25.8l-23.3 25.8l-23.3-25.8zM1771 23.2l23.3 25.8l-23.3 25.8l-23.3-25.8zM1791.1 23.2l23.3 25.8l-23.3 25.8l-23.3-25.8zM1811.1 23.2l23.3 25.8l-23.3 25.8l-23.3-25.8zM1831.2 23.2l23.3 25.8l-23.3 25.8l-23.3-25.8zM1851.3 23.2l23.3 25.8l-23.3 25.8l-23.3-25.8zM1871.3 23.2l23.3 25.8l-23.3 25.8l-23.3-25.8zM1891.4 23.2l23.3 25.8l-23.3 25.8l-23.3-25.8zM1911.4 23.2l23.3 25.8l-23.3 25.8l-23.3-25.8zM1931.5 23.2l23.3 25.8l-23.3 25.8l-23.3-25.8zM1951.6 23.2l23.3 25.8l-23.3 25.8l-23.3-25.8zM1971.6 23.2l23.3 25.8l-23.3 25.8l-23.3-25.8zM1991.7 23.2l23.3 25.8l-23.3 25.8l-23.3-25.8zM2011.7 23.2l23.3 25.8l-23.3 25.8l-23.3-25.8zM2031.8 23.2l23.3 25.8l-23.3 25.8l-23.3-25.8zM2051.9 23.2l23.3 25.8l-23.3 25.8l-23.3-25.8zM2071.9 23.2l23.3 25.8l-23.3 25.8l-23.3-25.8zM2092 23.2l23.3 25.8l-23.3 25.8l-23.3-25.8zM2112 23.2l23.3 25.8l-23.3 25.8l-23.3-25.8zM2132.1 23.2l23.3 25.8l-23.3 25.8l-23.3-25.8zM2152.1 23.2l23.3 25.8l-23.3 25.8l-23.3-25.8zM2172.2 23.2l23.3 25.8l-23.3 25.8l-23.3-25.8zM2192.3 23.2l23.3 25.8l-23.3 25.8l-23.3-25.8zM2212.3 23.2l23.3 25.8l-23.3 25.8l-23.3-25.8zM2232.4 23.2l23.3 25.8l-23.3 25.8l-23.3-25.8zM2252.4 23.2l23.3 25.8l-23.3 25.8l-23.3-25.8zM2272.5 23.2l23.3 25.8l-23.3 25.8l-23.3-25.8z" fill="#008000"/>
</g>
<rect x="318.4" y="80.4" width="786.2" height="426.4" fill="#fff"/>
<path d="M317 80.4H1106" stroke="#bdbdbd" stroke-width="3.2" fill="none"/><path d="M318 83.4H1106" stroke="#777" stroke-width="2.8" fill="none"/>
<path d="M321.1 82V508.3" stroke="#c8c8c8" stroke-width="2.8" fill="none"/><path d="M318.4 78.8V508.3" stroke="#777" stroke-width="2.8" fill="none"/>
<path d="M1104.5 78.8V508.3" stroke="#333" stroke-width="3" fill="none"/><path d="M317 506.8H1106" stroke="#333" stroke-width="3" fill="none"/>
<path d="M324 122.2H457" stroke="#ff0000" stroke-width="5.6" fill="none"/>
<path d="M390.2 122.2m-20.3 0a20.3 20.3 0 1 0 40.6 0a20.3 20.3 0 1 0-40.6 0z" fill="#ff0000"/>
<path d="M324 259.9H457" stroke="#0000ff" stroke-width="5.6" fill="none"/>
<path d="M390.2 231.7l24.2 42.6h-48.4z" fill="#0000ff"/>
<path d="M324 329.6H457" stroke="#008000" stroke-width="5.6" fill="none"/>
<path d="M390.2 303.8l23.3 25.8l-23.3 25.8l-23.3-25.8z" fill="#008000"/>
<path d="M324 398.4H457" stroke="#ff00ff" stroke-width="5.6" fill="none"/>
<path d="M390.2 426.6l-24.2-42.6h48.4z" fill="#ff00ff"/>
<path d="M324 467H457" stroke="#000000" stroke-width="5.6" fill="none"/>
<path d="M372.5 449.3h35.4v35.4h-35.4z" fill="#000000"/>
<g font-family="'Liberation Sans', Arial, Helvetica, sans-serif" font-weight="bold" fill="#000">
<g font-size="55.5" letter-spacing="-0.5">
<text x="466.7" y="140.9">High sulfate Resistence</text>
<text x="462.6" y="209.6">Cement (HS)</text>
<text x="466.7" y="279">Metakaolin (M)</text>
<text x="467.4" y="348">Quartz Powder (Q)</text>
<text x="466.7" y="417.2">Limestone (L)</text>
<text x="466.7" y="486.6">Natural River Sand</text>
</g>
<g font-size="68.5">
<text transform="translate(198 1681.6) scale(0.94 1)">0</text>
<text transform="translate(162.2 1358.3) scale(0.94 1)">20</text>
<text transform="translate(162.2 1035) scale(0.94 1)">40</text>
<text transform="translate(162.2 711.8) scale(0.94 1)">60</text>
<text transform="translate(162.2 388.5) scale(0.94 1)">80</text>
<text transform="translate(126.4 65.2) scale(0.94 1)">100</text>
<text transform="translate(258.2 1741.5) scale(0.94 1)">0.01</text>
<text transform="translate(540.9 1741.5) scale(0.94 1)">0.1</text>
<text transform="translate(922.2 1741.5) scale(0.94 1)">1</text>
<text transform="translate(1234.2 1741.5) scale(0.94 1)">10</text>
<text transform="translate(1559.2 1741.5) scale(0.94 1)">100</text>
<text transform="translate(1855.2 1741.5) scale(0.94 1)">1,000</text>
<text transform="translate(2153.1 1741.5) scale(0.94 1)">10,000</text>
</g>
<g font-size="77">
<text y="1850"><tspan x="1138.4" letter-spacing="-1.5">Size </tspan><tspan x="1310.8">(</tspan><tspan x="1336.6" font-weight="normal" font-size="67">µ</tspan><tspan x="1375.2">m)</tspan></text>
<text transform="translate(84 1062.5) rotate(-90)">% Passing</text>
</g>
</g>
</svg>
</body>
</html>
